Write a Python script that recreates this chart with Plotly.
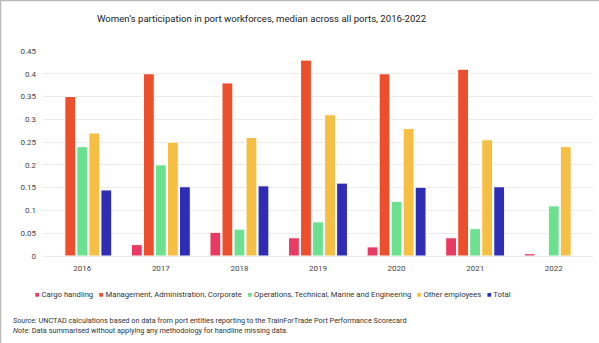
import plotly.graph_objects as go

years = ["2016", "2017", "2018", "2019", "2020", "2021", "2022"]
cargo = [None, 0.025, 0.052, 0.040, 0.020, 0.040, 0.005]
management = [0.35, 0.40, 0.38, 0.43, 0.40, 0.41, None]
operations = [0.24, 0.20, 0.059, 0.075, 0.12, 0.06, 0.11]
other = [0.27, 0.25, 0.26, 0.31, 0.28, 0.255, 0.24]
total = [0.145, 0.152, 0.154, 0.16, 0.151, 0.152, None]

series_names = ["Cargo handling", "Management, Administration, Corporate",
                "Operations, Technical, Marine and Engineering", "Other employees", "Total"]
series_vals = [cargo, management, operations, other, total]
colors = ["#E83A62", "#EC4F2C", "#6BE190", "#F6BE42", "#2F2DB5"]
y_ticks = [0, 0.05, 0.1, 0.15, 0.2, 0.25, 0.3, 0.35, 0.4, 0.45]
y_ticktext = ["0", "0.05", "0.1", "0.15", "0.2", "0.25", "0.3", "0.35", "0.4", "0.45"]

W, H = 599, 343
L, R, T, B = 43, 6, 51, 87
PW, PH = W - L - R, H - T - B

def px_x(x):
    return (x - L) / PW

def px_y(y):
    return (H - B - y) / PH

FONT = "Roboto, sans-serif"

fig = go.Figure()
for name, vals, c in zip(series_names, series_vals, colors):
    fig.add_trace(go.Bar(x=years, y=vals, name=name, marker=dict(color=c, line=dict(color="white", width=1))))

fig.update_layout(
    width=W, height=H,
    margin=dict(l=L, r=R, t=T, b=B),
    paper_bgcolor="white", plot_bgcolor="white",
    barmode="group", bargap=0.235, bargroupgap=0.1,
    showlegend=False,
    font=dict(family=FONT, size=8, color="#333333"),
    xaxis=dict(showgrid=False, showline=False, ticks="", ticklabelstandoff=6,
               tickfont=dict(family=FONT, size=8, color="#444444")),
    yaxis=dict(range=[0, 0.45], tickvals=y_ticks, ticktext=y_ticktext, showgrid=True,
               gridcolor="#ebebeb", gridwidth=1, zeroline=True, zerolinecolor="#ebebeb",
               zerolinewidth=1, tickfont=dict(family=FONT, size=8, color="#444444"), ticklabelstandoff=6),
)

legend_text = "&nbsp;&nbsp;&nbsp;".join(
    f"<span style='color:{c}'>■</span> {name}" for name, c in zip(series_names, colors))

annotations = [
    dict(text="Women’s participation in port workforces, median across all ports, 2016-2022",
         x=px_x(262), y=px_y(18), xref="paper", yref="paper", xanchor="center", yanchor="middle",
         showarrow=False, font=dict(family=FONT, size=9.6, color="#222222")),
    dict(text=legend_text, x=px_x(273), y=px_y(294), xref="paper", yref="paper",
         xanchor="center", yanchor="middle", showarrow=False,
         font=dict(family=FONT, size=7.7, color="#333333")),
    dict(text="<i>Source:</i> UNCTAD calculations based on data from port entities reporting to the TrainForTrade Port Performance Scorecard",
         x=px_x(11), y=px_y(320), xref="paper", yref="paper", xanchor="left", yanchor="middle",
         showarrow=False, font=dict(family=FONT, size=7.3, color="#333333")),
    dict(text="<i>Note:</i> Data summarised without applying any methodology for handline missing data.",
         x=px_x(11), y=px_y(330), xref="paper", yref="paper", xanchor="left", yanchor="middle",
         showarrow=False, font=dict(family=FONT, size=7.3, color="#333333")),
]
fig.update_layout(annotations=annotations)

fig.add_shape(type="line", xref="paper", yref="paper", x0=px_x(0.5), x1=px_x(0.5), y0=px_y(0), y1=px_y(H),
              line=dict(color="#bbbbbb", width=1.5))
fig.add_shape(type="line", xref="paper", yref="paper", x0=px_x(0), x1=px_x(W), y0=px_y(0.5), y1=px_y(0.5),
              line=dict(color="#bbbbbb", width=1.5))

fig.write_html("out.html")
